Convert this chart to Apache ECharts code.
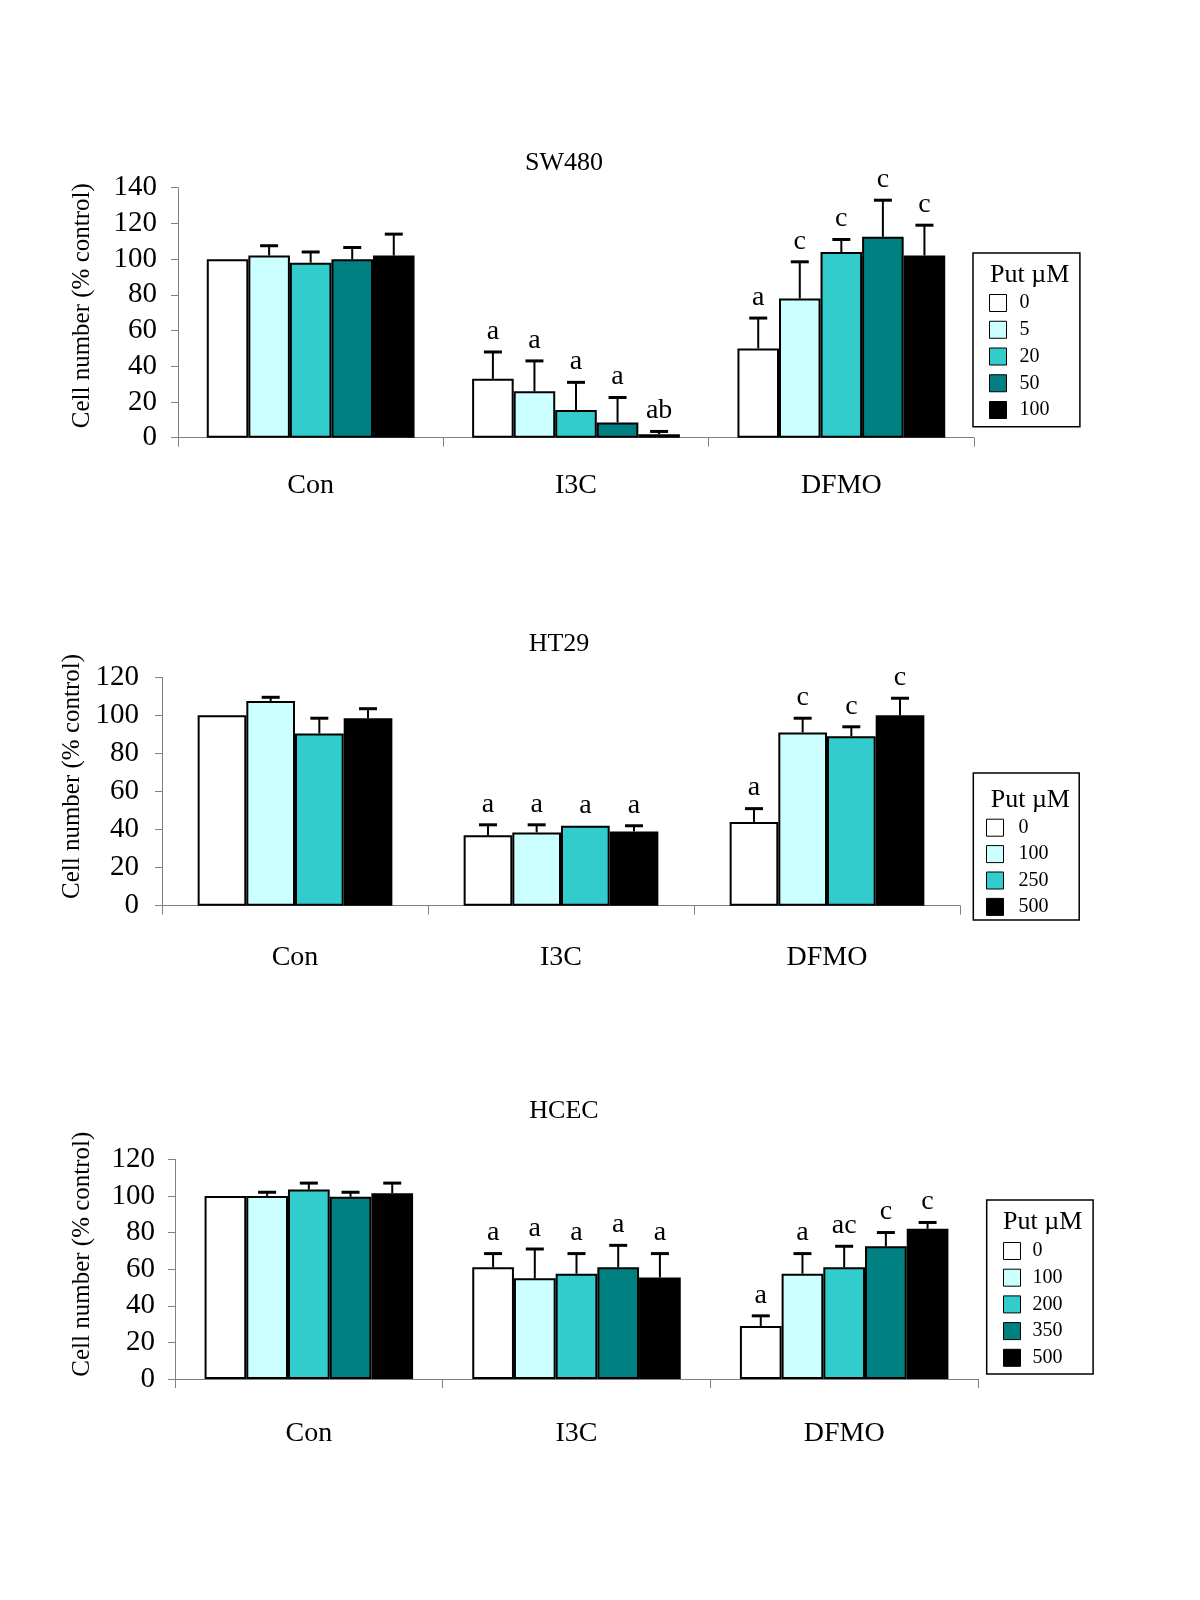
<!DOCTYPE html>
<html><head><meta charset="utf-8">
<script src="https://cdn.jsdelivr.net/npm/echarts@6/dist/echarts.min.js"></script>
<style>html,body{margin:0;padding:0;background:#fff}#c{width:1200px;height:1600px}</style>
</head><body><div id="c"></div>
<script>
// ---------------- data ----------------
const categories = ['Con', 'I3C', 'DFMO'];
const yTicksSW480 = [0, 20, 40, 60, 80, 100, 120, 140];
const yTicksOther = [0, 20, 40, 60, 80, 100, 120];

const sw480Levels = ['0', '5', '20', '50', '100'];
const sw480Mean = [
  [100, 33, 50],
  [102, 26, 78],
  [98, 15.5, 104],
  [100, 8.5, 112.5],
  [102, 2, 102]
];
const sw480Err = [
  [0, 15, 17],
  [5.5, 17, 20.5],
  [6, 15.5, 7],
  [6.5, 14, 20.5],
  [12, 1.5, 17]
];
const sw480Letters = [
  ['', 'a', 'a'],
  ['', 'a', 'c'],
  ['', 'a', 'c'],
  ['', 'a', 'c'],
  ['', 'ab', 'c']
];

const ht29Levels = ['0', '100', '250', '500'];
const ht29Mean = [
  [100, 37, 44],
  [107.5, 38.5, 91],
  [90.5, 42, 89],
  [98.5, 39, 100]
];
const ht29Err = [
  [0, 5.5, 7],
  [2, 4, 7.5],
  [8, 0, 5],
  [5, 3, 9]
];
const ht29Letters = [
  ['', 'a', 'a'],
  ['', 'a', 'c'],
  ['', 'a', 'c'],
  ['', 'a', 'c']
];

const hcecLevels = ['0', '100', '200', '350', '500'];
const hcecMean = [
  [100, 61, 29],
  [100, 55, 57.5],
  [103.5, 57.5, 61],
  [99.5, 61, 72.5],
  [101.5, 55.5, 82]
];
const hcecErr = [
  [0, 7.5, 5.5],
  [2, 16, 11],
  [3.5, 11, 11.5],
  [2.5, 12, 7.5],
  [5.5, 13, 3.5]
];
const hcecLetters = [
  ['', 'a', 'a'],
  ['', 'a', 'a'],
  ['', 'a', 'ac'],
  ['', 'a', 'c'],
  ['', 'a', 'c']
];

// ---------------- styles / layout ----------------
const FONT = '"Liberation Serif", "Times New Roman", serif';
const col5 = ['#FFFFFF', '#CCFFFF', '#33CCCC', '#008080', '#000000'];
const col4 = ['#FFFFFF', '#CCFFFF', '#33CCCC', '#000000'];

const panels = [
  { key: 'SW480', levels: sw480Levels, mean: sw480Mean, err: sw480Err, letters: sw480Letters, ticks: yTicksSW480, colors: col5,
    grid: { left: 178, top: 187.7, width: 796, height: 250 }, gap: 0.217,
    nameGap: 83, namePad: 14, xMargin: 34, yMargin: 21,
    legend: { left: 973, top: 253, padding: [40, 30.4, 6.7, 16], textGap: 5, textPad: 8, itemGap: 6.75 },
    legTitle: [990, 275], title: [564, 163] },
  { key: 'HT29', levels: ht29Levels, mean: ht29Mean, err: ht29Err, letters: ht29Letters, ticks: yTicksOther, colors: col4,
    grid: { left: 162, top: 677.3, width: 798, height: 228.4 }, gap: 0.268,
    nameGap: 67, namePad: 30, xMargin: 38, yMargin: 23,
    legend: { left: 973.3, top: 773, padding: [44.7, 30.7, 3.2, 12.7], textGap: 5, textPad: 10, itemGap: 6.4 },
    legTitle: [990.7, 800], title: [559, 644] },
  { key: 'HCEC', levels: hcecLevels, mean: hcecMean, err: hcecErr, letters: hcecLetters, ticks: yTicksOther, colors: col5,
    grid: { left: 175, top: 1159.3, width: 803, height: 219.7 }, gap: 0.221,
    nameGap: 80, namePad: 30, xMargin: 41, yMargin: 20,
    legend: { left: 986.7, top: 1200, padding: [41, 30.6, 6.3, 16.3], textGap: 5, textPad: 7, itemGap: 6.7 },
    legTitle: [1003, 1222.5], title: [564, 1111] }
];

const grid = [], xAxis = [], yAxis = [], series = [], legend = [], graphic = [];

panels.forEach(function (p, pi) {
  grid.push(Object.assign({ outerBoundsMode: 'none', containLabel: false }, p.grid));
  xAxis.push({
    type: 'category', gridIndex: pi, data: categories,
    axisLine: { show: true, lineStyle: { color: '#808080', width: 1 } },
    axisTick: { show: true, length: 9, lineStyle: { color: '#808080' } },
    axisLabel: { fontFamily: FONT, fontSize: 28, color: '#000', margin: p.xMargin },
    splitLine: { show: false }
  });
  const tmax = p.ticks[p.ticks.length - 1];
  yAxis.push({
    type: 'value', gridIndex: pi, min: p.ticks[0], max: tmax, interval: p.ticks[1] - p.ticks[0],
    name: 'Cell number (% control)', nameLocation: 'middle', nameGap: p.nameGap,
    nameTextStyle: { fontFamily: FONT, fontSize: 25, color: '#000', padding: [0, 0, 0, p.namePad] },
    axisLine: { show: true, lineStyle: { color: '#808080', width: 1 } },
    axisTick: { show: true, length: 7, lineStyle: { color: '#808080' } },
    axisLabel: { fontFamily: FONT, fontSize: 29, color: '#000', margin: p.yMargin },
    splitLine: { show: false }
  });
  const n = p.levels.length;
  const legendData = [];
  p.levels.forEach(function (lv, i) {
    const nm = p.key + '|' + lv;
    legendData.push(nm);
    series.push({
      type: 'bar', name: nm, xAxisIndex: pi, yAxisIndex: pi, data: p.mean[i],
      barGap: '0%', barCategoryGap: (p.gap * 100).toFixed(1) + '%',
      itemStyle: { color: p.colors[i], borderColor: '#000', borderWidth: 2 },
      silent: true
    });
  });
  // error bars + significance letters
  const errData = [], letterFlat = [];
  p.levels.forEach(function (lv, i) {
    categories.forEach(function (c, ci) {
      errData.push([ci, i, p.mean[i][ci], p.err[i][ci]]);
      letterFlat.push(p.letters[i][ci]);
    });
  });
  series.push({
    type: 'custom', xAxisIndex: pi, yAxisIndex: pi, silent: true, z: 5,
    encode: { x: 0, y: 2 },
    data: errData,
    renderItem: function (params, api) {
      const c = api.value(0), s = api.value(1), m = api.value(2), e = api.value(3);
      const letter = letterFlat[params.dataIndex];
      const catW = api.size([1, 0])[0];
      const bw = catW * (1 - p.gap) / n;
      const p0 = api.coord([c, m]);
      const x = p0[0] + (s - (n - 1) / 2) * bw;
      const yTop = api.coord([c, m + e])[1];
      const children = [];
      if (e > 0) {
        children.push({ type: 'line', shape: { x1: x, y1: p0[1], x2: x, y2: yTop }, style: { stroke: '#000', lineWidth: 2 } });
        children.push({ type: 'line', shape: { x1: x - 9, y1: yTop, x2: x + 9, y2: yTop }, style: { stroke: '#000', lineWidth: 3 } });
      }
      if (letter) {
        children.push({ type: 'text', x: x, y: yTop - 6.5,
          style: { text: letter, fill: '#000', font: '28px ' + FONT,
            textAlign: 'center', textVerticalAlign: 'bottom', align: 'center', verticalAlign: 'bottom' } });
      }
      return { type: 'group', children: children };
    }
  });
  legend.push({
    orient: 'vertical', left: p.legend.left, top: p.legend.top, padding: p.legend.padding,
    data: legendData, selectedMode: false, icon: 'rect',
    itemWidth: 17, itemHeight: 17, itemGap: p.legend.itemGap, itemTextGap: p.legend.textGap,
    itemStyle: { borderColor: '#000', borderWidth: 1 },
    borderColor: '#000', borderWidth: 1.5, backgroundColor: '#fff',
    textStyle: { fontFamily: FONT, fontSize: 20, color: '#000', padding: [0, 0, 0, p.legend.textPad] },
    formatter: function (name) { return name.split('|')[1]; }
  });
  graphic.push({ type: 'text', x: p.legTitle[0], y: p.legTitle[1], z: 100,
    style: { text: 'Put µM', fill: '#000', font: '26px ' + FONT,
      textAlign: 'left', textVerticalAlign: 'middle', align: 'left', verticalAlign: 'middle' } });
  graphic.push({ type: 'text', x: p.title[0], y: p.title[1],
    style: { text: p.key, fill: '#000', font: '26px ' + FONT,
      textAlign: 'center', textVerticalAlign: 'middle', align: 'center', verticalAlign: 'middle' } });
});

const chart = echarts.init(document.getElementById('c'), null, { renderer: 'canvas', width: 1200, height: 1600 });
chart.setOption({
  backgroundColor: '#ffffff',
  animation: false,
  grid: grid, xAxis: xAxis, yAxis: yAxis, series: series, legend: legend, graphic: graphic
});
</script></body></html>
